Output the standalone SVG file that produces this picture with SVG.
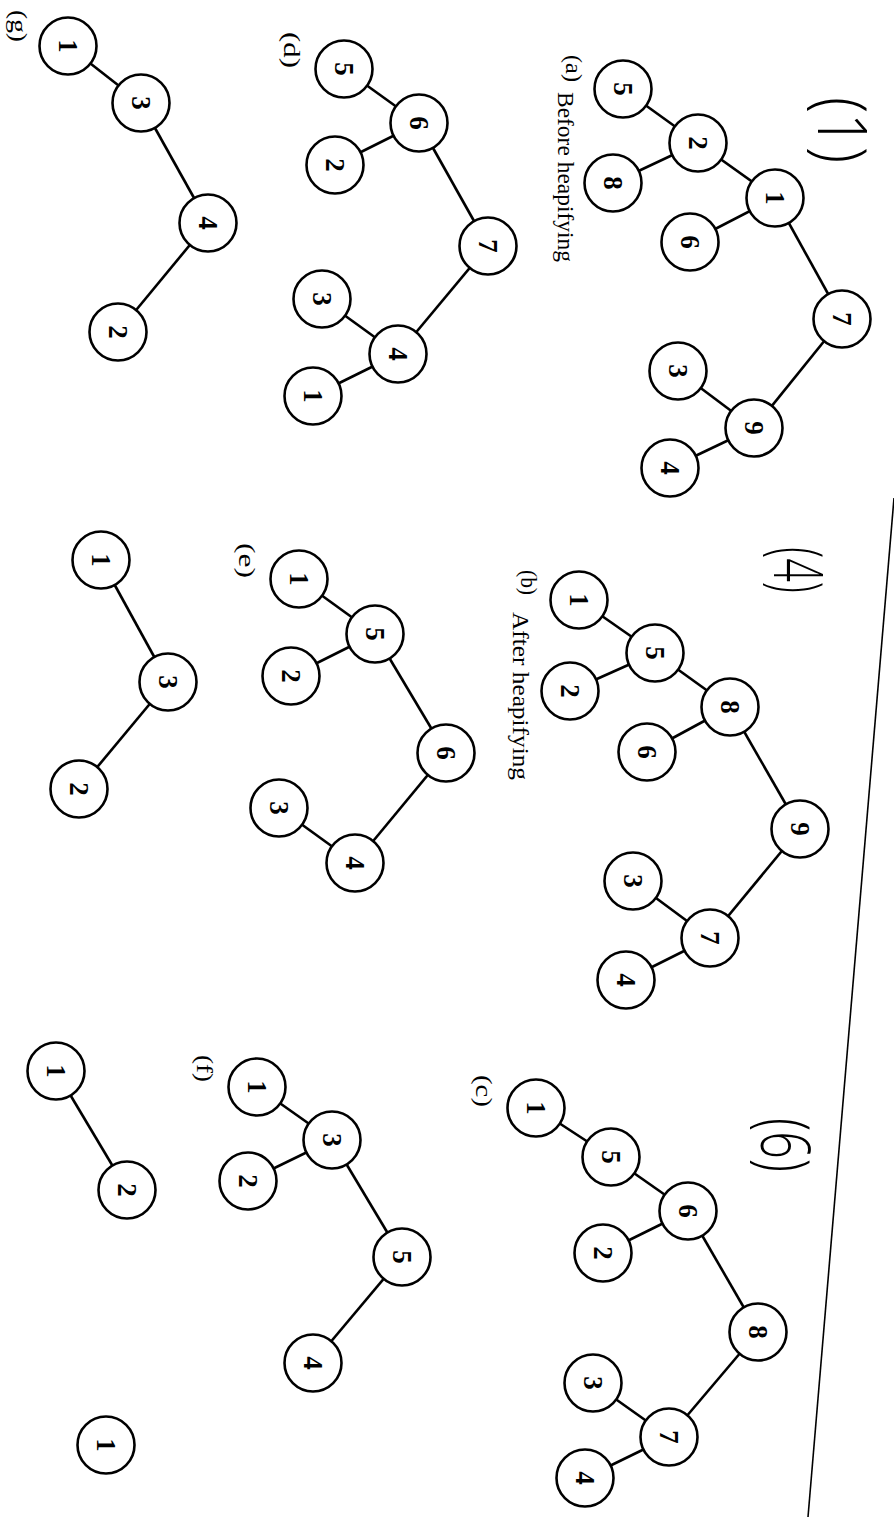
<svg xmlns="http://www.w3.org/2000/svg" width="894" height="1537" viewBox="0 0 894 1537">
<style>
.n circle{fill:#fff;stroke:#000;stroke-width:2.6}
.n text{font-family:"Liberation Serif",serif;font-weight:bold;font-size:27px;text-anchor:middle;dominant-baseline:central;fill:#000}
.e line{stroke:#000;stroke-width:2.6}
.lbl{font-family:"Liberation Serif",serif;font-size:24px;fill:#000}
.sl{font-family:"Liberation Serif",serif;font-size:23px;fill:#000}
.hw{font-family:"Open Sans",sans-serif;font-weight:300;font-size:68px;fill:#000}
</style>
<rect width="894" height="1537" fill="#fff"/>
<line x1="894" y1="498" x2="808" y2="1517" stroke="#000" stroke-width="1.6"/>
<g id="connectors" class="e">
<line x1="623" y1="89" x2="698" y2="143"/><line x1="613" y1="183" x2="698" y2="143"/><line x1="698" y1="143" x2="775" y2="198"/><line x1="690" y1="242" x2="775" y2="198"/><line x1="775" y1="198" x2="842" y2="319"/><line x1="842" y1="319" x2="754" y2="428"/><line x1="678" y1="371" x2="754" y2="428"/><line x1="670" y1="468" x2="754" y2="428"/>
<line x1="579" y1="600" x2="655" y2="653"/><line x1="570" y1="691" x2="655" y2="653"/><line x1="655" y1="653" x2="730" y2="707"/><line x1="647" y1="752" x2="730" y2="707"/><line x1="730" y1="707" x2="800" y2="829"/><line x1="800" y1="829" x2="710" y2="938"/><line x1="633" y1="881" x2="710" y2="938"/><line x1="626" y1="980" x2="710" y2="938"/>
<line x1="536" y1="1108" x2="611" y2="1157"/><line x1="611" y1="1157" x2="688" y2="1211"/><line x1="603" y1="1253" x2="688" y2="1211"/><line x1="688" y1="1211" x2="758" y2="1332"/><line x1="758" y1="1332" x2="669" y2="1437"/><line x1="593" y1="1383" x2="669" y2="1437"/><line x1="585" y1="1478" x2="669" y2="1437"/>
<line x1="344" y1="69" x2="419" y2="123"/><line x1="335" y1="165" x2="419" y2="123"/><line x1="419" y1="123" x2="488" y2="246"/><line x1="488" y1="246" x2="398" y2="354"/><line x1="322" y1="299" x2="398" y2="354"/><line x1="313" y1="396" x2="398" y2="354"/>
<line x1="299" y1="579" x2="375" y2="634"/><line x1="291" y1="676" x2="375" y2="634"/><line x1="375" y1="634" x2="446" y2="753"/><line x1="446" y1="753" x2="355" y2="863"/><line x1="279" y1="808" x2="355" y2="863"/>
<line x1="257" y1="1087" x2="332" y2="1140"/><line x1="248" y1="1181" x2="332" y2="1140"/><line x1="332" y1="1140" x2="402" y2="1257"/><line x1="402" y1="1257" x2="313" y2="1363"/>
<line x1="68" y1="46" x2="141" y2="103"/><line x1="141" y1="103" x2="208" y2="223"/><line x1="208" y1="223" x2="118" y2="332"/>
<line x1="101" y1="560" x2="168" y2="682"/><line x1="168" y1="682" x2="79" y2="789"/>
<line x1="56" y1="1071" x2="127" y2="1190"/>
</g>
<g id="a5" class="n" transform="translate(623,89)"><circle r="28.5"/><text transform="rotate(90)">5</text></g>
<g id="a2" class="n" transform="translate(698,143)"><circle r="28.5"/><text transform="rotate(90)">2</text></g>
<g id="a8" class="n" transform="translate(613,183)"><circle r="28.5"/><text transform="rotate(90)">8</text></g>
<g id="a1" class="n" transform="translate(775,198)"><circle r="28.5"/><text transform="rotate(90)">1</text></g>
<g id="a6" class="n" transform="translate(690,242)"><circle r="28.5"/><text transform="rotate(90)">6</text></g>
<g id="a7" class="n" transform="translate(842,319)"><circle r="28.5"/><text transform="rotate(90)">7</text></g>
<g id="a3" class="n" transform="translate(678,371)"><circle r="28.5"/><text transform="rotate(90)">3</text></g>
<g id="a9" class="n" transform="translate(754,428)"><circle r="28.5"/><text transform="rotate(90)">9</text></g>
<g id="a4" class="n" transform="translate(670,468)"><circle r="28.5"/><text transform="rotate(90)">4</text></g>
<g id="b1" class="n" transform="translate(579,600)"><circle r="28.5"/><text transform="rotate(90)">1</text></g>
<g id="b5" class="n" transform="translate(655,653)"><circle r="28.5"/><text transform="rotate(90)">5</text></g>
<g id="b2" class="n" transform="translate(570,691)"><circle r="28.5"/><text transform="rotate(90)">2</text></g>
<g id="b8" class="n" transform="translate(730,707)"><circle r="28.5"/><text transform="rotate(90)">8</text></g>
<g id="b6" class="n" transform="translate(647,752)"><circle r="28.5"/><text transform="rotate(90)">6</text></g>
<g id="b9" class="n" transform="translate(800,829)"><circle r="28.5"/><text transform="rotate(90)">9</text></g>
<g id="b3" class="n" transform="translate(633,881)"><circle r="28.5"/><text transform="rotate(90)">3</text></g>
<g id="b7" class="n" transform="translate(710,938)"><circle r="28.5"/><text transform="rotate(90)">7</text></g>
<g id="b4" class="n" transform="translate(626,980)"><circle r="28.5"/><text transform="rotate(90)">4</text></g>
<g id="c1" class="n" transform="translate(536,1108)"><circle r="28.5"/><text transform="rotate(90)">1</text></g>
<g id="c5" class="n" transform="translate(611,1157)"><circle r="28.5"/><text transform="rotate(90)">5</text></g>
<g id="c6" class="n" transform="translate(688,1211)"><circle r="28.5"/><text transform="rotate(90)">6</text></g>
<g id="c2" class="n" transform="translate(603,1253)"><circle r="28.5"/><text transform="rotate(90)">2</text></g>
<g id="c8" class="n" transform="translate(758,1332)"><circle r="28.5"/><text transform="rotate(90)">8</text></g>
<g id="c3" class="n" transform="translate(593,1383)"><circle r="28.5"/><text transform="rotate(90)">3</text></g>
<g id="c7" class="n" transform="translate(669,1437)"><circle r="28.5"/><text transform="rotate(90)">7</text></g>
<g id="c4" class="n" transform="translate(585,1478)"><circle r="28.5"/><text transform="rotate(90)">4</text></g>
<g id="d5" class="n" transform="translate(344,69)"><circle r="28.5"/><text transform="rotate(90)">5</text></g>
<g id="d6" class="n" transform="translate(419,123)"><circle r="28.5"/><text transform="rotate(90)">6</text></g>
<g id="d2" class="n" transform="translate(335,165)"><circle r="28.5"/><text transform="rotate(90)">2</text></g>
<g id="d7" class="n" transform="translate(488,246)"><circle r="28.5"/><text transform="rotate(90)">7</text></g>
<g id="d3" class="n" transform="translate(322,299)"><circle r="28.5"/><text transform="rotate(90)">3</text></g>
<g id="d4" class="n" transform="translate(398,354)"><circle r="28.5"/><text transform="rotate(90)">4</text></g>
<g id="d1" class="n" transform="translate(313,396)"><circle r="28.5"/><text transform="rotate(90)">1</text></g>
<g id="e1" class="n" transform="translate(299,579)"><circle r="28.5"/><text transform="rotate(90)">1</text></g>
<g id="e5" class="n" transform="translate(375,634)"><circle r="28.5"/><text transform="rotate(90)">5</text></g>
<g id="e2" class="n" transform="translate(291,676)"><circle r="28.5"/><text transform="rotate(90)">2</text></g>
<g id="e6" class="n" transform="translate(446,753)"><circle r="28.5"/><text transform="rotate(90)">6</text></g>
<g id="e3" class="n" transform="translate(279,808)"><circle r="28.5"/><text transform="rotate(90)">3</text></g>
<g id="e4" class="n" transform="translate(355,863)"><circle r="28.5"/><text transform="rotate(90)">4</text></g>
<g id="f1" class="n" transform="translate(257,1087)"><circle r="28.5"/><text transform="rotate(90)">1</text></g>
<g id="f3" class="n" transform="translate(332,1140)"><circle r="28.5"/><text transform="rotate(90)">3</text></g>
<g id="f2" class="n" transform="translate(248,1181)"><circle r="28.5"/><text transform="rotate(90)">2</text></g>
<g id="f5" class="n" transform="translate(402,1257)"><circle r="28.5"/><text transform="rotate(90)">5</text></g>
<g id="f4" class="n" transform="translate(313,1363)"><circle r="28.5"/><text transform="rotate(90)">4</text></g>
<g id="g1" class="n" transform="translate(68,46)"><circle r="28.5"/><text transform="rotate(90)">1</text></g>
<g id="g3" class="n" transform="translate(141,103)"><circle r="28.5"/><text transform="rotate(90)">3</text></g>
<g id="g4" class="n" transform="translate(208,223)"><circle r="28.5"/><text transform="rotate(90)">4</text></g>
<g id="g2" class="n" transform="translate(118,332)"><circle r="28.5"/><text transform="rotate(90)">2</text></g>
<g id="h1" class="n" transform="translate(101,560)"><circle r="28.5"/><text transform="rotate(90)">1</text></g>
<g id="h3" class="n" transform="translate(168,682)"><circle r="28.5"/><text transform="rotate(90)">3</text></g>
<g id="h2" class="n" transform="translate(79,789)"><circle r="28.5"/><text transform="rotate(90)">2</text></g>
<g id="i1" class="n" transform="translate(56,1071)"><circle r="28.5"/><text transform="rotate(90)">1</text></g>
<g id="i2" class="n" transform="translate(127,1190)"><circle r="28.5"/><text transform="rotate(90)">2</text></g>
<g id="j1" class="n" transform="translate(106,1445)"><circle r="28.5"/><text transform="rotate(90)">1</text></g>
<g id="labels">
<text class="lbl" transform="translate(566,55) rotate(90)" textLength="27" lengthAdjust="spacingAndGlyphs">(a)</text>
<text class="lbl" transform="translate(558,92) rotate(90)" textLength="170" lengthAdjust="spacingAndGlyphs">Before heapifying</text>
<text class="lbl" transform="translate(521,570) rotate(90)" textLength="25" lengthAdjust="spacingAndGlyphs">(b)</text>
<text class="lbl" transform="translate(513,612) rotate(90)" textLength="168" lengthAdjust="spacingAndGlyphs">After heapifying</text>
<text class="sl" transform="translate(476,1075) rotate(90)" textLength="32" lengthAdjust="spacingAndGlyphs">(c)</text>
<text class="sl" transform="translate(284,32) rotate(90)" textLength="36" lengthAdjust="spacingAndGlyphs">(d)</text>
<text class="sl" transform="translate(239,543) rotate(90)" textLength="35" lengthAdjust="spacingAndGlyphs">(e)</text>
<text class="sl" transform="translate(197,1055) rotate(90)" textLength="27" lengthAdjust="spacingAndGlyphs">(f)</text>
<text class="sl" transform="translate(11,10) rotate(90)" textLength="32" lengthAdjust="spacingAndGlyphs">(g)</text>
</g>
<g id="handwriting">
<text class="hw" transform="translate(818,97) rotate(90)" textLength="66" lengthAdjust="spacingAndGlyphs">(1)</text>
<text class="hw" transform="translate(774,547) rotate(90)" textLength="46" lengthAdjust="spacingAndGlyphs">(4)</text>
<text class="hw" transform="translate(761,1118) rotate(90)" textLength="54" lengthAdjust="spacingAndGlyphs">(6)</text>
</g>
</svg>
